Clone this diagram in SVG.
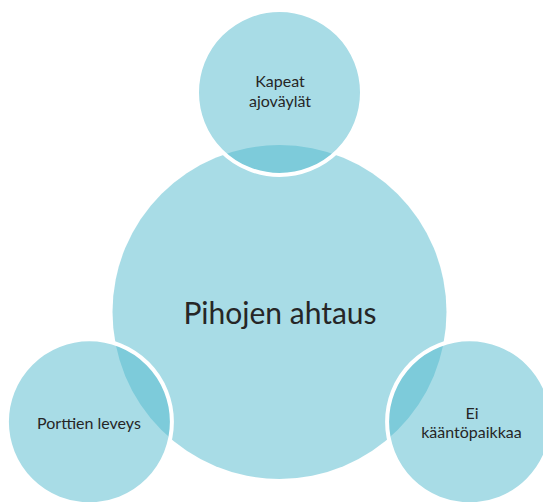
<svg xmlns="http://www.w3.org/2000/svg" width="543" height="502" viewBox="0 0 543 502">
  <style>
    .bubble { fill: #51B9CD; fill-opacity: 0.5; }
    .sat { stroke: #FFFFFF; stroke-width: 4; }
    .lbl { font-family: Lato, "Noto Sans", "Liberation Sans", sans-serif; fill: #262626; text-anchor: middle; }
    .small { font-size: 16px; }
    .big { font-size: 30px; }
  </style>
  <rect width="543" height="502" fill="#FFFFFF"/>
  <g id="center-node">
    <circle class="bubble" cx="279.5" cy="312" r="167"/>
    <text class="lbl big" x="280" y="324">Pihojen ahtaus</text>
  </g>
  <g id="connectors"/>
  <g id="node-top">
    <circle class="bubble sat" cx="279.5" cy="92.5" r="82.5"/>
    <text class="lbl small" x="280" y="87">Kapeat</text>
    <text class="lbl small" x="280" y="107">ajoväylät</text>
  </g>
  <g id="node-left">
    <circle class="bubble sat" cx="89.4" cy="421.8" r="82.5"/>
    <text class="lbl small" x="89" y="429">Porttien leveys</text>
  </g>
  <g id="node-right">
    <circle class="bubble sat" cx="469.6" cy="421.8" r="82.5"/>
    <text class="lbl small" x="472" y="419">Ei</text>
    <text class="lbl small" x="471.5" y="438">kääntöpaikkaa</text>
  </g>
</svg>
